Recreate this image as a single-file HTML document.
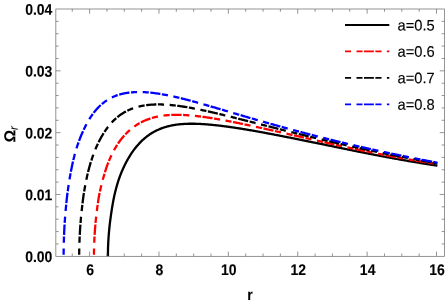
<!DOCTYPE html>
<html><head><meta charset="utf-8"><title>plot</title>
<style>
html,body{margin:0;padding:0;background:#fff;}
body{width:447px;height:305px;overflow:hidden;}
svg{display:block;will-change:transform;}
text{font-family:"Liberation Sans",sans-serif;font-size:14px;fill:#000;}
.lg{font-size:14.7px;stroke:#000;stroke-width:0.12px;}
.b{font-weight:bold;stroke:#000;stroke-width:0.1px;}
</style></head>
<body>
<svg width="447" height="305" viewBox="0 0 447 305">
<rect x="0" y="0" width="447" height="305" fill="#fff"/>
<g fill="none" stroke-width="2.3" stroke-linejoin="round">
<path d="M107.94,256.20 L107.93,255.56 L107.93,254.93 L107.93,254.29 L107.94,253.65 L107.94,253.04 L107.95,252.40 L107.96,251.74 L107.97,251.12 L107.98,250.49 L108.00,249.83 L108.01,249.23 L108.02,248.62 L108.04,247.99 L108.06,247.35 L108.08,246.70 L108.10,246.04 L108.12,245.44 L108.15,244.83 L108.17,244.21 L108.20,243.58 L108.23,242.94 L108.27,242.29 L108.30,241.63 L108.34,240.96 L108.38,240.29 L108.42,239.68 L108.46,239.07 L108.50,238.45 L108.54,237.82 L108.58,237.19 L108.63,236.55 L108.68,235.89 L108.73,235.23 L108.78,234.56 L108.84,233.89 L108.89,233.20 L108.95,232.51 L109.01,231.91 L109.06,231.30 L109.11,230.68 L109.17,230.06 L109.23,229.44 L109.29,228.80 L109.35,228.16 L109.42,227.52 L109.48,226.87 L109.55,226.21 L109.62,225.54 L109.69,224.87 L109.77,224.20 L109.85,223.52 L109.94,222.83 L110.02,222.14 L110.11,221.44 L110.20,220.74 L110.29,220.03 L110.39,219.32 L110.47,218.72 L110.55,218.11 L110.63,217.51 L110.71,216.90 L110.80,216.29 L110.88,215.67 L110.97,215.05 L111.06,214.43 L111.15,213.80 L111.24,213.18 L111.34,212.55 L111.43,211.92 L111.53,211.28 L111.63,210.64 L111.73,210.00 L111.83,209.36 L111.93,208.72 L112.03,208.08 L112.14,207.43 L112.24,206.78 L112.35,206.13 L112.46,205.48 L112.57,204.83 L112.68,204.18 L112.80,203.53 L112.91,202.88 L113.03,202.23 L113.15,201.57 L113.27,200.92 L113.39,200.27 L113.51,199.62 L113.64,198.96 L113.77,198.31 L113.90,197.66 L114.04,197.02 L114.18,196.37 L114.32,195.73 L114.47,195.09 L114.62,194.45 L114.76,193.81 L114.91,193.17 L115.07,192.54 L115.22,191.90 L115.37,191.28 L115.53,190.65 L115.69,190.02 L115.85,189.40 L116.01,188.79 L116.17,188.17 L116.34,187.56 L116.50,186.95 L116.67,186.35 L116.84,185.75 L117.01,185.15 L117.18,184.56 L117.36,183.97 L117.53,183.38 L117.71,182.80 L117.89,182.22 L118.07,181.65 L118.29,180.97 L118.51,180.29 L118.74,179.62 L118.97,178.96 L119.20,178.30 L119.43,177.64 L119.66,177.00 L119.90,176.36 L120.14,175.72 L120.37,175.09 L120.62,174.46 L120.86,173.84 L121.10,173.22 L121.35,172.61 L121.60,172.00 L121.86,171.39 L122.11,170.79 L122.37,170.19 L122.63,169.60 L122.90,169.00 L123.17,168.41 L123.44,167.82 L123.71,167.24 L123.98,166.65 L124.26,166.07 L124.54,165.49 L124.83,164.91 L125.11,164.34 L125.40,163.77 L125.69,163.20 L125.99,162.63 L126.28,162.07 L126.58,161.51 L126.89,160.95 L127.19,160.39 L127.50,159.84 L127.81,159.29 L128.13,158.74 L128.44,158.20 L128.76,157.66 L129.09,157.12 L129.41,156.58 L129.74,156.05 L130.07,155.52 L130.40,154.99 L130.74,154.47 L131.08,153.95 L131.42,153.43 L131.76,152.92 L132.11,152.41 L132.46,151.90 L132.81,151.40 L133.17,150.90 L133.53,150.40 L133.89,149.91 L134.26,149.42 L134.63,148.93 L135.00,148.45 L135.37,147.98 L135.75,147.50 L136.13,147.03 L136.51,146.57 L136.90,146.10 L137.29,145.65 L137.68,145.19 L138.14,144.67 L138.61,144.15 L139.08,143.64 L139.55,143.13 L140.03,142.63 L140.51,142.13 L141.00,141.64 L141.49,141.16 L141.99,140.68 L142.49,140.21 L142.99,139.75 L143.50,139.29 L144.01,138.84 L144.53,138.39 L145.05,137.95 L145.57,137.52 L146.10,137.09 L146.64,136.68 L147.18,136.26 L147.72,135.86 L148.27,135.46 L148.82,135.07 L149.37,134.68 L149.93,134.30 L150.50,133.93 L151.07,133.56 L151.64,133.21 L152.22,132.85 L152.80,132.51 L153.39,132.17 L153.98,131.84 L154.58,131.52 L155.18,131.20 L155.79,130.89 L156.40,130.58 L157.01,130.29 L157.63,130.00 L158.26,129.71 L158.89,129.44 L159.52,129.17 L160.16,128.90 L160.80,128.65 L161.45,128.40 L162.10,128.16 L162.76,127.92 L163.33,127.72 L163.90,127.53 L164.47,127.34 L165.05,127.16 L165.63,126.99 L166.21,126.81 L166.80,126.65 L167.40,126.48 L167.99,126.33 L168.59,126.17 L169.19,126.03 L169.80,125.88 L170.41,125.75 L171.02,125.61 L171.64,125.49 L172.26,125.36 L172.88,125.25 L173.51,125.13 L174.14,125.02 L174.78,124.92 L175.42,124.82 L176.06,124.73 L176.71,124.64 L177.36,124.55 L178.01,124.47 L178.67,124.39 L179.33,124.32 L179.99,124.25 L180.66,124.19 L181.33,124.13 L182.01,124.08 L182.69,124.03 L183.37,123.98 L184.06,123.94 L184.75,123.90 L185.45,123.87 L186.14,123.84 L186.85,123.81 L187.55,123.79 L188.26,123.77 L188.98,123.76 L189.69,123.75 L190.30,123.74 L190.90,123.74 L191.51,123.73 L192.11,123.73 L192.73,123.74 L193.34,123.74 L193.96,123.75 L194.58,123.76 L195.20,123.77 L195.82,123.79 L196.45,123.81 L197.08,123.83 L197.72,123.85 L198.35,123.87 L198.99,123.90 L199.63,123.93 L200.28,123.96 L200.92,124.00 L201.57,124.03 L202.22,124.07 L202.88,124.11 L203.54,124.15 L204.20,124.20 L204.86,124.24 L205.53,124.29 L206.20,124.34 L206.87,124.39 L207.54,124.45 L208.22,124.50 L208.90,124.56 L209.58,124.62 L210.27,124.68 L210.95,124.75 L211.64,124.81 L212.34,124.88 L213.03,124.95 L213.73,125.02 L214.44,125.09 L215.14,125.16 L215.85,125.24 L216.56,125.32 L217.27,125.40 L217.99,125.48 L218.71,125.56 L219.43,125.64 L220.15,125.73 L220.88,125.82 L221.61,125.90 L222.34,126.00 L223.08,126.09 L223.82,126.18 L224.56,126.28 L225.15,126.35 L225.75,126.43 L226.35,126.51 L226.95,126.59 L227.55,126.68 L228.15,126.76 L228.76,126.84 L229.37,126.93 L229.98,127.01 L230.59,127.10 L231.20,127.19 L231.82,127.27 L232.44,127.36 L233.05,127.45 L233.68,127.55 L234.30,127.64 L234.92,127.73 L235.55,127.83 L236.18,127.92 L236.81,128.02 L237.44,128.11 L238.07,128.21 L238.71,128.31 L239.34,128.41 L239.98,128.51 L240.63,128.61 L241.27,128.72 L241.91,128.82 L242.56,128.92 L243.21,129.03 L243.86,129.14 L244.51,129.24 L245.16,129.35 L245.82,129.46 L246.48,129.57 L247.14,129.68 L247.80,129.79 L248.46,129.91 L249.13,130.02 L249.80,130.13 L250.46,130.25 L251.14,130.36 L251.81,130.48 L252.48,130.60 L253.16,130.72 L253.84,130.84 L254.52,130.96 L255.20,131.08 L255.89,131.20 L256.57,131.32 L257.26,131.44 L257.95,131.57 L258.64,131.69 L259.33,131.82 L260.03,131.94 L260.73,132.07 L261.43,132.20 L262.13,132.33 L262.83,132.46 L263.54,132.59 L264.24,132.72 L264.95,132.85 L265.66,132.98 L266.38,133.11 L267.09,133.25 L267.81,133.38 L268.53,133.52 L269.25,133.65 L269.97,133.79 L270.70,133.93 L271.42,134.06 L272.15,134.20 L272.88,134.34 L273.61,134.48 L274.35,134.62 L275.08,134.76 L275.82,134.91 L276.56,135.05 L277.30,135.19 L278.05,135.34 L278.79,135.48 L279.54,135.63 L280.29,135.77 L281.04,135.92 L281.80,136.07 L282.55,136.21 L283.31,136.36 L284.07,136.51 L284.83,136.66 L285.59,136.81 L286.36,136.96 L287.13,137.11 L287.90,137.27 L288.67,137.42 L289.44,137.57 L290.22,137.73 L290.99,137.88 L291.77,138.04 L292.55,138.19 L293.34,138.35 L293.93,138.47 L294.52,138.59 L295.11,138.70 L295.70,138.82 L296.29,138.94 L296.89,139.06 L297.48,139.18 L298.08,139.30 L298.68,139.42 L299.27,139.54 L299.87,139.66 L300.48,139.79 L301.08,139.91 L301.68,140.03 L302.29,140.15 L302.89,140.27 L303.50,140.40 L304.11,140.52 L304.72,140.64 L305.33,140.77 L305.94,140.89 L306.55,141.02 L307.16,141.14 L307.78,141.27 L308.39,141.39 L309.01,141.52 L309.63,141.64 L310.25,141.77 L310.87,141.89 L311.49,142.02 L312.11,142.15 L312.74,142.28 L313.36,142.40 L313.99,142.53 L314.61,142.66 L315.24,142.79 L315.87,142.92 L316.50,143.05 L317.13,143.17 L317.77,143.30 L318.40,143.43 L319.04,143.56 L319.67,143.69 L320.31,143.82 L320.95,143.96 L321.59,144.09 L322.23,144.22 L322.87,144.35 L323.51,144.48 L324.16,144.61 L324.80,144.75 L325.45,144.88 L326.10,145.01 L326.75,145.14 L327.40,145.28 L328.05,145.41 L328.70,145.54 L329.35,145.68 L330.01,145.81 L330.66,145.95 L331.32,146.08 L331.98,146.22 L332.64,146.35 L333.30,146.49 L333.96,146.62 L334.62,146.76 L335.29,146.90 L335.95,147.03 L336.62,147.17 L337.29,147.31 L337.96,147.44 L338.63,147.58 L339.30,147.72 L339.97,147.85 L340.64,147.99 L341.32,148.13 L341.99,148.27 L342.67,148.41 L343.35,148.55 L344.03,148.69 L344.71,148.82 L345.39,148.96 L346.07,149.10 L346.76,149.24 L347.44,149.38 L348.13,149.52 L348.81,149.66 L349.50,149.80 L350.19,149.94 L350.88,150.08 L351.58,150.22 L352.27,150.36 L352.96,150.51 L353.66,150.65 L354.36,150.79 L355.05,150.93 L355.75,151.07 L356.45,151.21 L357.15,151.35 L357.86,151.50 L358.56,151.64 L359.27,151.78 L359.97,151.92 L360.68,152.06 L361.39,152.20 L362.10,152.35 L362.81,152.49 L363.52,152.63 L364.23,152.77 L364.95,152.91 L365.67,153.06 L366.38,153.20 L367.10,153.34 L367.82,153.48 L368.54,153.63 L369.26,153.77 L369.98,153.91 L370.71,154.05 L371.43,154.19 L372.16,154.33 L372.89,154.48 L373.62,154.62 L374.35,154.76 L375.08,154.90 L375.81,155.04 L376.55,155.18 L377.28,155.33 L378.02,155.47 L378.75,155.61 L379.49,155.75 L380.23,155.89 L380.97,156.03 L381.72,156.17 L382.46,156.31 L383.20,156.45 L383.95,156.59 L384.70,156.73 L385.44,156.87 L386.19,157.01 L386.94,157.15 L387.70,157.29 L388.45,157.43 L389.20,157.57 L389.96,157.71 L390.72,157.85 L391.47,157.99 L392.23,158.13 L392.99,158.27 L393.75,158.41 L394.52,158.55 L395.28,158.68 L396.05,158.82 L396.81,158.96 L397.58,159.10 L398.35,159.24 L399.12,159.37 L399.89,159.51 L400.66,159.65 L401.44,159.78 L402.21,159.92 L402.99,160.06 L403.77,160.19 L404.54,160.33 L405.32,160.46 L406.11,160.60 L406.89,160.73 L407.67,160.87 L408.46,161.00 L409.24,161.14 L410.03,161.27 L410.82,161.41 L411.61,161.54 L412.40,161.67 L413.19,161.81 L413.98,161.94 L414.78,162.07 L415.58,162.21 L416.37,162.34 L417.17,162.47 L417.97,162.60 L418.77,162.73 L419.57,162.87 L420.38,163.00 L421.18,163.13 L421.99,163.26 L422.79,163.39 L423.60,163.52 L424.41,163.65 L425.22,163.78 L426.03,163.90 L426.85,164.03 L427.66,164.16 L428.48,164.29 L429.29,164.42 L430.11,164.55 L430.93,164.67 L431.75,164.80 L432.58,164.93 L433.40,165.05 L434.22,165.18 L435.05,165.30 L435.88,165.43 L436.70,165.55 L437.40,165.66" stroke="#000"/>
<path d="M93.95,254.70 L93.95,254.45 L93.95,253.70 L93.96,252.95 L93.97,252.20 L93.98,251.45 L94.00,250.70 L94.01,249.95 L94.03,249.20 L94.05,248.45 L94.05,248.43M94.24,242.71 L94.24,242.70 L94.26,241.95 L94.29,241.21 L94.33,240.46 L94.36,239.71 L94.39,238.96 L94.43,238.21 L94.47,237.46 L94.51,236.71 L94.52,236.45M94.61,234.88 L94.62,234.71 L94.67,233.97 L94.72,233.22 L94.77,232.47 L94.82,231.72 L94.87,230.97 L94.92,230.22 L94.98,229.48 L95.03,228.73 L95.09,227.98 L95.15,227.23 L95.21,226.48 L95.28,225.74 L95.34,224.99 L95.38,224.49M95.52,222.92 L95.54,222.75 L95.61,222.00 L95.68,221.26 L95.76,220.51 L95.83,219.76 L95.91,219.02 L95.99,218.27 L96.07,217.53 L96.15,216.78 L96.16,216.68M96.83,211.00 L96.85,210.82 L96.94,210.08 L97.04,209.33 L97.13,208.59 L97.23,207.85 L97.33,207.10 L97.43,206.36 L97.54,205.62 L97.64,204.87 L97.65,204.79M97.87,203.23 L97.89,203.14 L98.00,202.40 L98.11,201.66 L98.22,200.92 L98.33,200.17 L98.45,199.43 L98.57,198.69 L98.68,197.95 L98.81,197.21 L98.93,196.47 L99.05,195.73 L99.18,194.99 L99.33,194.26 L99.48,193.52 L99.60,192.96M99.93,191.42 L99.95,191.32 L100.11,190.59 L100.27,189.86 L100.43,189.13 L100.60,188.39 L100.77,187.66 L100.94,186.93 L101.11,186.20 L101.29,185.47 L101.33,185.31M102.76,179.77 L102.79,179.66 L102.99,178.94 L103.19,178.22 L103.39,177.50 L103.60,176.78 L103.82,176.06 L104.03,175.34 L104.24,174.62 L104.45,173.90 L104.49,173.74M104.94,172.24 L104.94,172.22 L105.16,171.50 L105.38,170.79 L105.61,170.07 L105.84,169.36 L106.07,168.65 L106.31,167.94 L106.56,167.23 L106.80,166.52 L107.06,165.81 L107.31,165.11 L107.57,164.40 L107.84,163.70 L108.11,163.00 L108.32,162.47M108.90,161.03 L108.95,160.91 L109.23,160.22 L109.53,159.53 L109.82,158.84 L110.12,158.15 L110.43,157.47 L110.74,156.79 L111.05,156.11 L111.37,155.43 L111.41,155.34M113.99,150.30 L114.10,150.08 L114.47,149.43 L114.83,148.78 L115.21,148.13 L115.59,147.48 L115.97,146.84 L116.36,146.20 L116.76,145.56 L117.15,144.95M118.00,143.65 L118.12,143.46 L118.55,142.84 L118.97,142.23 L119.41,141.62 L119.85,141.01 L120.30,140.41 L120.75,139.81 L121.21,139.22 L121.67,138.63 L122.14,138.04 L122.62,137.47 L123.11,136.89 L123.60,136.32 L124.09,135.76 L124.33,135.50M125.38,134.36 L125.45,134.29 L125.97,133.75 L126.49,133.22 L127.02,132.69 L127.56,132.16 L128.11,131.65 L128.66,131.14 L129.21,130.64 L129.78,130.14 L129.87,130.06M134.32,126.55 L134.49,126.43 L135.10,126.00 L135.72,125.57 L136.34,125.16 L136.97,124.75 L137.61,124.35 L138.25,123.96 L138.89,123.58 L139.54,123.20 L139.55,123.20M140.91,122.45 L141.08,122.37 L141.75,122.02 L142.42,121.69 L143.09,121.36 L143.77,121.04 L144.45,120.73 L145.14,120.43 L145.83,120.14 L146.53,119.85 L147.22,119.58 L147.92,119.31 L148.63,119.05 L149.34,118.80 L150.05,118.56 L150.41,118.44M151.90,117.98 L151.96,117.97 L152.68,117.76 L153.40,117.56 L154.12,117.37 L154.85,117.19 L155.58,117.01 L156.31,116.84 L157.04,116.68 L157.78,116.53 L157.93,116.50M163.52,115.59 L163.70,115.57 L164.44,115.48 L165.19,115.40 L165.94,115.32 L166.68,115.25 L167.43,115.18 L168.18,115.12 L168.93,115.07 L169.67,115.02 L169.71,115.02M171.26,114.94 L171.42,114.93 L172.17,114.90 L172.92,114.87 L173.67,114.85 L174.42,114.83 L175.17,114.82 L175.92,114.81 L176.67,114.81 L177.42,114.81 L178.17,114.82 L178.92,114.83 L179.67,114.84 L180.42,114.86 L181.17,114.89 L181.59,114.90M183.14,114.96 L183.17,114.96 L183.92,115.00 L184.67,115.04 L185.41,115.08 L186.16,115.13 L186.91,115.18 L187.66,115.23 L188.41,115.29 L189.16,115.34 L189.34,115.36M194.95,115.88 L195.13,115.90 L195.87,115.98 L196.62,116.06 L197.37,116.15 L198.11,116.24 L198.85,116.33 L199.60,116.42 L200.34,116.51 L201.01,116.60M202.52,116.79 L202.57,116.80 L203.32,116.90 L204.06,117.00 L204.80,117.11 L205.55,117.21 L206.29,117.32 L207.03,117.43 L207.77,117.54 L208.51,117.65 L209.26,117.76 L210.00,117.88 L210.74,117.99 L211.48,118.11 L212.22,118.23 L212.55,118.28M214.06,118.53 L214.19,118.55 L214.93,118.67 L215.67,118.80 L216.41,118.92 L217.15,119.05 L217.89,119.18 L218.63,119.31 L219.37,119.44 L220.07,119.56M225.54,120.57 L225.76,120.61 L226.50,120.75 L227.24,120.89 L227.97,121.03 L228.71,121.17 L229.44,121.31 L230.18,121.46 L230.92,121.60 L231.53,121.72M233.03,122.02 L233.12,122.04 L233.86,122.18 L234.59,122.33 L235.33,122.48 L236.06,122.63 L236.80,122.78 L237.53,122.93 L238.27,123.08 L239.00,123.23 L239.74,123.38 L240.47,123.53 L241.21,123.69 L241.94,123.84 L242.68,123.99 L242.97,124.05M244.47,124.36 L244.63,124.40 L245.37,124.55 L246.10,124.71 L246.84,124.86 L247.57,125.02 L248.30,125.17 L249.04,125.33 L249.77,125.48 L250.50,125.64M255.98,126.83 L256.12,126.86 L256.86,127.02 L257.59,127.18 L258.32,127.34 L259.05,127.50 L259.79,127.66 L260.52,127.82 L261.25,127.98 L261.98,128.14 L262.00,128.15M263.50,128.48 L263.69,128.52 L264.43,128.68 L265.16,128.85 L265.89,129.01 L266.62,129.17 L267.35,129.33 L268.09,129.50 L268.82,129.66 L269.55,129.83 L270.28,129.99 L271.01,130.15 L271.75,130.32 L272.48,130.48 L273.21,130.65 L273.48,130.71M274.99,131.05 L275.16,131.09 L275.89,131.25 L276.62,131.42 L277.35,131.58 L278.09,131.75 L278.82,131.91 L279.55,132.08 L280.28,132.24 L280.99,132.40M286.46,133.65 L286.62,133.68 L287.35,133.85 L288.08,134.01 L288.81,134.18 L289.54,134.35 L290.28,134.51 L291.01,134.68 L291.74,134.85 L292.47,135.01M293.97,135.35 L294.18,135.40 L294.91,135.57 L295.64,135.73 L296.37,135.90 L297.10,136.07 L297.83,136.23 L298.56,136.40 L299.30,136.57 L300.03,136.73 L300.76,136.90 L301.49,137.07 L302.22,137.23 L302.95,137.40 L303.68,137.56 L303.95,137.62M305.45,137.97 L305.63,138.01 L306.36,138.17 L307.10,138.34 L307.83,138.51 L308.56,138.67 L309.29,138.84 L310.02,139.00 L310.75,139.17 L311.45,139.33M316.92,140.57 L317.09,140.60 L317.82,140.77 L318.56,140.94 L319.29,141.10 L320.02,141.26 L320.75,141.43 L321.48,141.59 L322.21,141.76 L322.93,141.92M324.43,142.26 L324.65,142.31 L325.39,142.47 L326.12,142.64 L326.85,142.80 L327.58,142.96 L328.31,143.13 L329.04,143.29 L329.78,143.45 L330.51,143.62 L331.24,143.78 L331.97,143.94 L332.71,144.11 L333.44,144.27 L334.17,144.43 L334.42,144.49M335.92,144.82 L336.12,144.87 L336.85,145.03 L337.59,145.19 L338.32,145.35 L339.05,145.51 L339.78,145.68 L340.52,145.84 L341.25,146.00 L341.93,146.15M347.42,147.35 L347.60,147.39 L348.33,147.55 L349.06,147.71 L349.80,147.87 L350.53,148.02 L351.26,148.18 L352.00,148.34 L352.73,148.50 L353.43,148.65M354.94,148.97 L355.17,149.02 L355.91,149.18 L356.64,149.34 L357.37,149.49 L358.11,149.65 L358.84,149.80 L359.58,149.96 L360.31,150.11 L361.04,150.27 L361.78,150.42 L362.51,150.58 L363.25,150.73 L363.98,150.88 L364.71,151.04 L364.95,151.08M366.46,151.40 L366.67,151.44 L367.41,151.59 L368.14,151.74 L368.88,151.89 L369.61,152.04 L370.35,152.20 L371.08,152.34 L371.82,152.49 L372.49,152.63M377.99,153.73 L378.19,153.77 L378.92,153.92 L379.66,154.06 L380.40,154.21 L381.13,154.35 L381.87,154.50 L382.60,154.64 L383.34,154.78 L384.04,154.92M385.55,155.21 L385.55,155.21 L386.29,155.35 L387.02,155.49 L387.76,155.63 L388.50,155.77 L389.23,155.91 L389.97,156.05 L390.71,156.19 L391.44,156.33 L392.18,156.47 L392.92,156.61 L393.66,156.74 L394.39,156.88 L395.13,157.02 L395.60,157.10M397.11,157.38 L397.34,157.42 L398.08,157.56 L398.82,157.69 L399.56,157.83 L400.30,157.96 L401.03,158.09 L401.77,158.22 L402.51,158.36 L403.17,158.47M408.70,159.44 L408.91,159.48 L409.65,159.61 L410.39,159.74 L411.13,159.86 L411.87,159.99 L412.61,160.11 L413.35,160.24 L414.09,160.36 L414.77,160.48M416.29,160.73 L416.31,160.74 L417.05,160.86 L417.79,160.98 L418.53,161.10 L419.27,161.23 L420.01,161.35 L420.75,161.47 L421.49,161.59 L422.23,161.71 L422.97,161.83 L423.71,161.95 L424.45,162.07 L425.19,162.18 L425.93,162.30 L426.39,162.37M427.91,162.61 L428.15,162.65 L428.89,162.77 L429.63,162.88 L430.37,163.00 L431.12,163.11 L431.86,163.23 L432.60,163.34 L433.34,163.45 L434.03,163.56" stroke="#ff0000"/>
<path d="M79.18,254.70 L79.18,254.45 L79.18,253.70 L79.19,252.95 L79.20,252.20 L79.21,251.45 L79.22,250.70 L79.24,249.95 L79.25,249.20 L79.27,248.45 L79.27,248.44M79.44,242.74 L79.44,242.70 L79.46,241.95 L79.49,241.20 L79.52,240.45 L79.54,239.71 L79.57,238.96 L79.61,238.21 L79.64,237.46 L79.67,236.71 L79.68,236.49M79.76,234.92 L79.77,234.71 L79.81,233.96 L79.85,233.21 L79.89,232.46 L79.94,231.71 L79.98,230.97 L80.03,230.22 L80.08,229.47 L80.12,228.72 L80.17,227.97 L80.22,227.22 L80.28,226.48 L80.33,225.73 L80.38,224.98 L80.41,224.55M80.53,222.99 L80.53,222.99 L80.59,222.24 L80.65,221.49 L80.72,220.74 L80.78,220.00 L80.85,219.25 L80.92,218.50 L80.98,217.75 L81.05,217.01 L81.08,216.75M81.64,211.08 L81.65,211.04 L81.73,210.29 L81.81,209.55 L81.89,208.80 L81.97,208.05 L82.05,207.31 L82.13,206.56 L82.22,205.82 L82.31,205.07 L82.33,204.86M82.51,203.30 L82.54,203.09 L82.63,202.34 L82.72,201.60 L82.81,200.85 L82.91,200.11 L83.00,199.37 L83.10,198.62 L83.20,197.88 L83.29,197.14 L83.39,196.39 L83.49,195.65 L83.60,194.91 L83.72,194.17 L83.84,193.42 L83.91,193.00M84.16,191.45 L84.16,191.45 L84.29,190.71 L84.41,189.97 L84.54,189.23 L84.67,188.50 L84.80,187.76 L84.93,187.02 L85.07,186.28 L85.20,185.54 L85.25,185.29M86.35,179.69 L86.36,179.65 L86.51,178.92 L86.66,178.19 L86.82,177.45 L86.98,176.72 L87.14,175.99 L87.31,175.26 L87.47,174.53 L87.64,173.79 L87.69,173.58M88.06,172.06 L88.11,171.85 L88.29,171.12 L88.48,170.40 L88.67,169.67 L88.86,168.94 L89.05,168.22 L89.25,167.50 L89.45,166.77 L89.66,166.05 L89.86,165.33 L90.08,164.61 L90.29,163.89 L90.51,163.18 L90.73,162.46 L90.85,162.08M91.33,160.60 L91.35,160.56 L91.58,159.84 L91.80,159.13 L92.03,158.41 L92.27,157.70 L92.50,156.99 L92.75,156.28 L92.99,155.57 L93.25,154.87 L93.31,154.69M95.37,149.40 L95.42,149.27 L95.71,148.58 L96.00,147.89 L96.30,147.20 L96.60,146.52 L96.91,145.83 L97.22,145.15 L97.54,144.47 L97.86,143.79 L97.90,143.70M98.58,142.30 L98.62,142.22 L98.96,141.55 L99.29,140.88 L99.64,140.21 L99.99,139.55 L100.34,138.89 L100.70,138.23 L101.06,137.57 L101.43,136.92 L101.80,136.27 L102.18,135.62 L102.56,134.97 L102.95,134.33 L103.34,133.69 L103.61,133.26M104.46,131.95 L104.56,131.80 L104.97,131.17 L105.39,130.55 L105.82,129.93 L106.25,129.32 L106.69,128.71 L107.13,128.11 L107.58,127.51 L108.03,126.91 L108.07,126.87M111.71,122.52 L111.73,122.50 L112.24,121.95 L112.75,121.41 L113.27,120.87 L113.81,120.35 L114.35,119.83 L114.90,119.31 L115.45,118.81 L116.01,118.31 L116.17,118.17M117.36,117.16 L117.54,117.02 L118.12,116.55 L118.72,116.09 L119.31,115.64 L119.92,115.19 L120.53,114.76 L121.15,114.33 L121.77,113.92 L122.40,113.51 L123.04,113.11 L123.68,112.72 L124.33,112.34 L124.98,111.97 L125.64,111.62 L125.97,111.44M127.36,110.73 L127.42,110.70 L128.09,110.38 L128.78,110.07 L129.46,109.76 L130.15,109.47 L130.84,109.18 L131.54,108.90 L132.24,108.63 L132.94,108.37 L133.10,108.31M138.53,106.66 L138.68,106.63 L139.41,106.45 L140.14,106.28 L140.87,106.12 L141.61,105.97 L142.34,105.82 L143.08,105.69 L143.82,105.56 L144.56,105.44 L144.64,105.43M146.18,105.20 L146.29,105.19 L147.04,105.09 L147.78,105.01 L148.53,104.93 L149.27,104.85 L150.02,104.78 L150.77,104.72 L151.51,104.67 L152.26,104.62 L153.01,104.58 L153.76,104.54 L154.51,104.51 L155.26,104.49 L156.01,104.47 L156.38,104.46M157.92,104.44 L158.01,104.44 L158.76,104.44 L159.51,104.45 L160.26,104.46 L161.01,104.47 L161.76,104.49 L162.51,104.52 L163.26,104.54 L164.01,104.58 L164.06,104.58M169.64,104.95 L169.74,104.96 L170.49,105.02 L171.24,105.09 L171.98,105.16 L172.73,105.24 L173.48,105.32 L174.22,105.40 L174.97,105.48 L175.71,105.57 L175.75,105.57M177.27,105.76 L177.45,105.78 L178.19,105.88 L178.94,105.97 L179.68,106.07 L180.42,106.18 L181.17,106.29 L181.91,106.40 L182.65,106.51 L183.39,106.63 L184.13,106.74 L184.87,106.86 L185.61,106.98 L186.35,107.11 L187.09,107.23 L187.36,107.28M188.88,107.54 L189.06,107.57 L189.80,107.70 L190.54,107.84 L191.28,107.97 L192.01,108.11 L192.75,108.25 L193.49,108.39 L194.22,108.53 L194.91,108.66M200.40,109.76 L200.60,109.80 L201.33,109.96 L202.06,110.11 L202.80,110.27 L203.53,110.42 L204.27,110.58 L205.00,110.74 L205.73,110.90 L206.41,111.05M207.91,111.38 L207.93,111.38 L208.66,111.55 L209.39,111.71 L210.12,111.88 L210.86,112.04 L211.59,112.21 L212.32,112.38 L213.05,112.54 L213.78,112.71 L214.51,112.88 L215.24,113.05 L215.97,113.22 L216.70,113.40 L217.43,113.57 L217.85,113.67M219.34,114.02 L219.38,114.03 L220.11,114.20 L220.84,114.38 L221.56,114.55 L222.29,114.73 L223.02,114.91 L223.75,115.08 L224.48,115.26 L225.21,115.44 L225.31,115.46M230.75,116.80 L230.79,116.81 L231.52,116.99 L232.25,117.17 L232.98,117.36 L233.70,117.54 L234.43,117.72 L235.16,117.90 L235.89,118.08 L236.61,118.27 L236.71,118.29M238.20,118.67 L238.31,118.70 L239.04,118.88 L239.76,119.06 L240.49,119.25 L241.22,119.43 L241.95,119.61 L242.67,119.79 L243.40,119.98 L244.13,120.16 L244.86,120.34 L245.58,120.53 L246.31,120.71 L247.04,120.90 L247.76,121.08 L248.11,121.17M249.60,121.55 L249.70,121.57 L250.43,121.76 L251.16,121.94 L251.88,122.12 L252.61,122.31 L253.34,122.49 L254.06,122.68 L254.79,122.86 L255.52,123.05 L255.57,123.06M261.01,124.45 L261.09,124.47 L261.82,124.65 L262.54,124.84 L263.27,125.02 L264.00,125.21 L264.73,125.39 L265.45,125.57 L266.18,125.76 L266.91,125.94 L266.98,125.96M268.48,126.34 L268.60,126.37 L269.33,126.56 L270.06,126.74 L270.78,126.93 L271.51,127.11 L272.24,127.30 L272.96,127.48 L273.69,127.67 L274.42,127.85 L275.14,128.03 L275.87,128.22 L276.60,128.40 L277.33,128.58 L278.05,128.77 L278.40,128.85M279.89,129.23 L279.99,129.26 L280.72,129.44 L281.45,129.62 L282.17,129.81 L282.90,129.99 L283.63,130.17 L284.36,130.36 L285.08,130.54 L285.81,130.72 L285.86,130.73M291.31,132.09 L291.39,132.11 L292.12,132.29 L292.85,132.48 L293.57,132.66 L294.30,132.84 L295.03,133.02 L295.76,133.20 L296.49,133.38 L297.21,133.56 L297.29,133.58M298.78,133.95 L298.91,133.98 L299.64,134.16 L300.37,134.34 L301.10,134.52 L301.83,134.69 L302.55,134.87 L303.28,135.05 L304.01,135.23 L304.74,135.41 L305.47,135.59 L306.20,135.76 L306.93,135.94 L307.65,136.12 L308.38,136.30 L308.72,136.38M310.22,136.74 L310.33,136.77 L311.06,136.94 L311.78,137.12 L312.51,137.30 L313.24,137.47 L313.97,137.65 L314.70,137.82 L315.43,138.00 L316.16,138.17 L316.21,138.19M321.67,139.49 L321.75,139.51 L322.48,139.68 L323.21,139.86 L323.94,140.03 L324.67,140.20 L325.40,140.37 L326.13,140.55 L326.86,140.72 L327.59,140.89 L327.66,140.91M329.16,141.26 L329.30,141.29 L330.03,141.46 L330.76,141.63 L331.49,141.80 L332.22,141.97 L332.95,142.14 L333.68,142.31 L334.41,142.48 L335.14,142.65 L335.87,142.82 L336.60,142.99 L337.33,143.16 L338.06,143.32 L338.79,143.49 L339.13,143.57M340.63,143.91 L340.74,143.94 L341.47,144.11 L342.20,144.27 L342.94,144.44 L343.67,144.61 L344.40,144.77 L345.13,144.94 L345.86,145.10 L346.59,145.27 L346.64,145.28M352.12,146.51 L352.20,146.53 L352.94,146.69 L353.67,146.85 L354.40,147.01 L355.13,147.18 L355.87,147.34 L356.60,147.50 L357.33,147.66 L358.06,147.82 L358.13,147.84M359.64,148.17 L359.77,148.20 L360.51,148.36 L361.24,148.51 L361.97,148.67 L362.70,148.83 L363.44,148.99 L364.17,149.15 L364.90,149.31 L365.64,149.47 L366.37,149.62 L367.10,149.78 L367.84,149.94 L368.57,150.09 L369.30,150.25 L369.64,150.32M371.15,150.64 L371.26,150.66 L371.99,150.82 L372.73,150.97 L373.46,151.13 L374.20,151.28 L374.93,151.44 L375.66,151.59 L376.40,151.74 L377.13,151.90 L377.18,151.91M382.67,153.04 L382.76,153.06 L383.50,153.21 L384.23,153.36 L384.97,153.51 L385.70,153.66 L386.44,153.81 L387.17,153.96 L387.91,154.11 L388.64,154.25 L388.71,154.27M390.22,154.57 L390.36,154.60 L391.09,154.75 L391.83,154.89 L392.57,155.04 L393.30,155.19 L394.04,155.33 L394.77,155.48 L395.51,155.62 L396.24,155.77 L396.98,155.91 L397.72,156.06 L398.45,156.20 L399.19,156.34 L399.92,156.49 L400.26,156.55M401.77,156.85 L401.89,156.87 L402.62,157.01 L403.36,157.15 L404.10,157.29 L404.83,157.44 L405.57,157.58 L406.31,157.72 L407.04,157.86 L407.78,158.00 L407.82,158.01M413.34,159.05 L413.43,159.06 L414.17,159.20 L414.91,159.34 L415.64,159.47 L416.38,159.61 L417.12,159.75 L417.86,159.88 L418.59,160.02 L419.33,160.15 L419.40,160.17M420.91,160.44 L421.05,160.47 L421.79,160.60 L422.53,160.74 L423.27,160.87 L424.00,161.00 L424.74,161.14 L425.48,161.27 L426.22,161.40 L426.96,161.54 L427.70,161.67 L428.43,161.80 L429.17,161.93 L429.91,162.06 L430.65,162.19 L431.04,162.26M432.57,162.53 L432.62,162.54 L433.36,162.67 L434.10,162.80 L434.83,162.93 L435.57,163.06 L436.31,163.18 L437.05,163.31 L437.40,163.37" stroke="#000"/>
<path d="M63.61,254.70 L63.61,254.45 L63.62,253.70 L63.62,252.95 L63.63,252.20 L63.64,251.45 L63.65,250.70 L63.66,249.95 L63.67,249.20 L63.69,248.45 L63.69,248.43M63.81,242.71 L63.81,242.70 L63.83,241.95 L63.85,241.20 L63.87,240.45 L63.89,239.70 L63.91,238.95 L63.94,238.20 L63.96,237.45 L63.99,236.70 L64.00,236.44M64.06,234.87 L64.07,234.71 L64.10,233.96 L64.13,233.21 L64.16,232.46 L64.20,231.71 L64.23,230.96 L64.27,230.21 L64.30,229.46 L64.34,228.71 L64.38,227.96 L64.42,227.21 L64.46,226.47 L64.51,225.72 L64.55,224.97 L64.58,224.46M64.68,222.90 L64.69,222.72 L64.74,221.97 L64.79,221.23 L64.84,220.48 L64.90,219.73 L64.95,218.98 L65.01,218.23 L65.07,217.49 L65.12,216.74 L65.13,216.64M65.61,210.94 L65.62,210.76 L65.69,210.01 L65.76,209.27 L65.83,208.52 L65.89,207.77 L65.96,207.02 L66.04,206.28 L66.11,205.53 L66.18,204.79 L66.19,204.70M66.34,203.14 L66.35,203.04 L66.43,202.30 L66.51,201.55 L66.58,200.81 L66.66,200.06 L66.74,199.31 L66.82,198.57 L66.91,197.82 L66.99,197.08 L67.07,196.33 L67.16,195.59 L67.25,194.84 L67.34,194.10 L67.44,193.36 L67.52,192.78M67.73,191.23 L67.75,191.13 L67.85,190.38 L67.95,189.64 L68.06,188.90 L68.17,188.16 L68.27,187.41 L68.38,186.67 L68.49,185.93 L68.60,185.19 L68.63,185.02M69.52,179.37 L69.54,179.26 L69.66,178.52 L69.79,177.78 L69.92,177.04 L70.04,176.30 L70.17,175.56 L70.30,174.83 L70.44,174.09 L70.57,173.35 L70.60,173.19M70.89,171.65 L70.89,171.63 L71.03,170.89 L71.17,170.16 L71.31,169.42 L71.46,168.68 L71.61,167.95 L71.76,167.21 L71.91,166.48 L72.06,165.75 L72.22,165.01 L72.37,164.28 L72.53,163.55 L72.70,162.81 L72.86,162.08 L73.01,161.44M73.37,159.91 L73.37,159.89 L73.55,159.16 L73.72,158.43 L73.90,157.70 L74.09,156.98 L74.27,156.25 L74.46,155.52 L74.66,154.80 L74.85,154.08 L74.92,153.83M76.52,148.33 L76.52,148.31 L76.75,147.60 L76.97,146.88 L77.20,146.17 L77.44,145.46 L77.68,144.75 L77.92,144.04 L78.16,143.33 L78.41,142.62 L78.50,142.38M79.04,140.90 L79.10,140.74 L79.36,140.04 L79.63,139.34 L79.90,138.64 L80.17,137.94 L80.45,137.24 L80.73,136.55 L81.02,135.85 L81.30,135.16 L81.60,134.47 L81.89,133.78 L82.19,133.09 L82.50,132.41 L82.80,131.72 L83.01,131.26M83.66,129.83 L83.73,129.67 L84.05,129.00 L84.37,128.32 L84.70,127.64 L85.03,126.97 L85.37,126.30 L85.71,125.63 L86.06,124.97 L86.41,124.31 L86.46,124.22M89.30,119.25 L89.39,119.10 L89.79,118.46 L90.19,117.83 L90.59,117.20 L91.01,116.57 L91.43,115.95 L91.85,115.33 L92.28,114.72 L92.72,114.11 L92.78,114.03M93.72,112.77 L93.76,112.71 L94.23,112.12 L94.69,111.53 L95.17,110.95 L95.65,110.37 L96.14,109.81 L96.63,109.24 L97.14,108.68 L97.65,108.13 L98.16,107.59 L98.68,107.05 L99.22,106.52 L99.75,106.00 L100.30,105.48 L100.74,105.08M101.92,104.04 L101.98,103.99 L102.55,103.51 L103.14,103.04 L103.73,102.57 L104.33,102.12 L104.93,101.68 L105.55,101.25 L106.17,100.83 L106.79,100.41 L106.95,100.30M111.92,97.47 L111.99,97.43 L112.67,97.11 L113.35,96.80 L114.04,96.50 L114.73,96.21 L115.43,95.93 L116.13,95.67 L116.84,95.41 L117.54,95.17 L117.73,95.11M119.23,94.64 L119.45,94.57 L120.17,94.37 L120.90,94.17 L121.63,93.99 L122.35,93.81 L123.09,93.65 L123.82,93.49 L124.56,93.34 L125.29,93.21 L126.03,93.08 L126.77,92.96 L127.51,92.85 L128.26,92.75 L129.00,92.65 L129.44,92.60M130.98,92.44 L130.99,92.44 L131.74,92.37 L132.48,92.31 L133.23,92.26 L133.98,92.21 L134.73,92.17 L135.48,92.14 L136.23,92.11 L136.98,92.09 L137.09,92.09M142.67,92.11 L142.73,92.11 L143.48,92.14 L144.23,92.17 L144.98,92.20 L145.72,92.25 L146.47,92.30 L147.22,92.35 L147.97,92.42 L148.72,92.48 L148.78,92.49M150.30,92.63 L150.46,92.65 L151.20,92.72 L151.95,92.81 L152.69,92.89 L153.44,92.98 L154.18,93.07 L154.93,93.17 L155.67,93.27 L156.41,93.37 L157.16,93.48 L157.90,93.58 L158.64,93.70 L159.38,93.81 L160.12,93.93 L160.39,93.97M161.90,94.22 L162.09,94.26 L162.83,94.39 L163.57,94.52 L164.31,94.65 L165.05,94.79 L165.78,94.92 L166.52,95.07 L167.26,95.21 L167.92,95.34M173.38,96.49 L173.62,96.54 L174.35,96.70 L175.08,96.87 L175.81,97.04 L176.54,97.20 L177.27,97.38 L178.00,97.55 L178.73,97.72 L179.35,97.87M180.84,98.23 L180.92,98.25 L181.65,98.43 L182.38,98.61 L183.11,98.79 L183.83,98.97 L184.56,99.16 L185.29,99.34 L186.01,99.53 L186.74,99.71 L187.47,99.90 L188.19,100.09 L188.92,100.28 L189.64,100.47 L190.37,100.67 L190.69,100.75M192.17,101.15 L192.30,101.19 L193.02,101.38 L193.75,101.58 L194.47,101.78 L195.19,101.97 L195.92,102.17 L196.64,102.37 L197.36,102.57 L198.08,102.77M203.45,104.29 L203.62,104.34 L204.34,104.54 L205.06,104.75 L205.78,104.96 L206.50,105.16 L207.22,105.37 L207.94,105.58 L208.66,105.79 L209.34,105.98M210.81,106.41 L210.82,106.42 L211.54,106.63 L212.26,106.84 L212.98,107.05 L213.70,107.26 L214.42,107.47 L215.14,107.68 L215.86,107.89 L216.58,108.10 L217.30,108.31 L218.02,108.53 L218.74,108.74 L219.46,108.95 L220.18,109.16 L220.57,109.28M222.04,109.71 L222.10,109.73 L222.82,109.94 L223.54,110.15 L224.25,110.37 L224.97,110.58 L225.69,110.79 L226.41,111.01 L227.13,111.22 L227.85,111.43 L227.91,111.45M233.27,113.04 L233.36,113.06 L234.08,113.28 L234.80,113.49 L235.52,113.70 L236.24,113.91 L236.96,114.13 L237.68,114.34 L238.40,114.55 L239.12,114.76 L239.14,114.77M240.61,115.20 L240.80,115.26 L241.52,115.47 L242.24,115.68 L242.96,115.89 L243.68,116.10 L244.40,116.31 L245.12,116.52 L245.84,116.73 L246.56,116.94 L247.28,117.15 L248.00,117.36 L248.72,117.57 L249.44,117.78 L250.16,117.99 L250.39,118.05M251.86,118.48 L252.08,118.54 L252.80,118.75 L253.52,118.96 L254.24,119.17 L254.96,119.37 L255.68,119.58 L256.40,119.79 L257.12,120.00 L257.75,120.18M263.12,121.71 L263.13,121.72 L263.85,121.92 L264.57,122.13 L265.30,122.33 L266.02,122.54 L266.74,122.74 L267.46,122.94 L268.18,123.15 L268.90,123.35 L269.02,123.38M270.49,123.80 L270.59,123.83 L271.31,124.03 L272.03,124.23 L272.76,124.43 L273.48,124.64 L274.20,124.84 L274.92,125.04 L275.64,125.24 L276.37,125.44 L277.09,125.64 L277.81,125.84 L278.54,126.04 L279.26,126.24 L279.98,126.44 L280.30,126.53M281.78,126.94 L281.91,126.98 L282.63,127.18 L283.36,127.37 L284.08,127.57 L284.80,127.77 L285.53,127.97 L286.25,128.17 L286.97,128.36 L287.69,128.56M293.08,130.02 L293.25,130.06 L293.97,130.26 L294.69,130.45 L295.42,130.65 L296.14,130.84 L296.87,131.03 L297.59,131.23 L298.32,131.42 L299.00,131.60M300.49,132.00 L300.49,132.00 L301.22,132.19 L301.94,132.38 L302.67,132.57 L303.39,132.76 L304.12,132.96 L304.84,133.15 L305.57,133.34 L306.29,133.53 L307.02,133.72 L307.75,133.91 L308.47,134.09 L309.20,134.28 L309.92,134.47 L310.34,134.58M311.82,134.96 L311.86,134.97 L312.59,135.16 L313.31,135.35 L314.04,135.53 L314.76,135.72 L315.49,135.91 L316.22,136.09 L316.94,136.28 L317.67,136.46 L317.76,136.49M323.17,137.86 L323.25,137.88 L323.97,138.06 L324.70,138.24 L325.43,138.42 L326.16,138.61 L326.88,138.79 L327.61,138.97 L328.34,139.15 L329.07,139.33 L329.12,139.34M330.61,139.71 L330.76,139.75 L331.49,139.93 L332.22,140.11 L332.95,140.29 L333.68,140.47 L334.41,140.65 L335.13,140.83 L335.86,141.00 L336.59,141.18 L337.32,141.36 L338.05,141.54 L338.78,141.71 L339.51,141.89 L340.24,142.06 L340.52,142.13M342.01,142.49 L342.18,142.53 L342.91,142.71 L343.64,142.88 L344.37,143.06 L345.10,143.23 L345.83,143.40 L346.56,143.58 L347.29,143.75 L347.99,143.92M353.44,145.20 L353.62,145.24 L354.35,145.41 L355.08,145.58 L355.81,145.75 L356.54,145.92 L357.27,146.09 L358.00,146.25 L358.73,146.42 L359.43,146.58M360.92,146.93 L361.17,146.98 L361.90,147.15 L362.63,147.32 L363.36,147.48 L364.09,147.65 L364.82,147.81 L365.55,147.98 L366.29,148.14 L367.02,148.31 L367.75,148.47 L368.48,148.64 L369.21,148.80 L369.95,148.96 L370.68,149.13 L370.88,149.17M372.38,149.51 L372.39,149.51 L373.12,149.67 L373.85,149.83 L374.58,149.99 L375.32,150.15 L376.05,150.31 L376.78,150.48 L377.51,150.64 L378.25,150.80 L378.38,150.83M383.86,152.01 L383.87,152.01 L384.60,152.17 L385.33,152.33 L386.07,152.48 L386.80,152.64 L387.53,152.80 L388.27,152.95 L389.00,153.11 L389.73,153.26 L389.87,153.29M391.37,153.61 L391.45,153.62 L392.18,153.78 L392.91,153.93 L393.65,154.08 L394.38,154.24 L395.12,154.39 L395.85,154.54 L396.59,154.70 L397.32,154.85 L398.05,155.00 L398.79,155.15 L399.52,155.30 L400.26,155.45 L400.99,155.60 L401.37,155.68M402.87,155.99 L402.95,156.00 L403.69,156.15 L404.42,156.30 L405.16,156.45 L405.89,156.60 L406.63,156.75 L407.36,156.90 L408.10,157.04 L408.83,157.19 L408.90,157.20M414.39,158.29 L414.47,158.31 L415.21,158.46 L415.95,158.60 L416.68,158.74 L417.42,158.89 L418.15,159.03 L418.89,159.17 L419.63,159.32 L420.36,159.46 L420.42,159.47M421.93,159.76 L422.08,159.79 L422.82,159.93 L423.55,160.08 L424.29,160.22 L425.03,160.36 L425.76,160.50 L426.50,160.64 L427.24,160.78 L427.97,160.92 L428.71,161.06 L429.45,161.20 L430.19,161.34 L430.92,161.48 L431.66,161.61 L432.05,161.69M433.58,161.97 L433.63,161.98 L434.36,162.12 L435.10,162.26 L435.84,162.39 L436.57,162.53 L437.31,162.67 L437.40,162.68" stroke="#0000ff"/>
</g>
<g stroke="#666" stroke-width="0.7" fill="none">
<rect x="55.85" y="9.0" width="388.55" height="247.30"/>
<path d="M72.25,256.3v-2.8M72.25,9.0v2.8M89.60,256.3v-4.7M89.60,9.0v4.7M106.94,256.3v-2.8M106.94,9.0v2.8M124.29,256.3v-2.8M124.29,9.0v2.8M141.63,256.3v-2.8M141.63,9.0v2.8M158.98,256.3v-4.7M158.98,9.0v4.7M176.32,256.3v-2.8M176.32,9.0v2.8M193.67,256.3v-2.8M193.67,9.0v2.8M211.01,256.3v-2.8M211.01,9.0v2.8M228.36,256.3v-4.7M228.36,9.0v4.7M245.70,256.3v-2.8M245.70,9.0v2.8M263.05,256.3v-2.8M263.05,9.0v2.8M280.39,256.3v-2.8M280.39,9.0v2.8M297.74,256.3v-4.7M297.74,9.0v4.7M315.08,256.3v-2.8M315.08,9.0v2.8M332.43,256.3v-2.8M332.43,9.0v2.8M349.77,256.3v-2.8M349.77,9.0v2.8M367.12,256.3v-4.7M367.12,9.0v4.7M384.47,256.3v-2.8M384.47,9.0v2.8M401.81,256.3v-2.8M401.81,9.0v2.8M419.15,256.3v-2.8M419.15,9.0v2.8M436.50,256.3v-4.7M436.50,9.0v4.7M55.85,243.94h2.8M444.4,243.94h-2.8M55.85,231.57h2.8M444.4,231.57h-2.8M55.85,219.21h2.8M444.4,219.21h-2.8M55.85,206.84h2.8M444.4,206.84h-2.8M55.85,194.48h4.7M444.4,194.48h-4.7M55.85,182.11h2.8M444.4,182.11h-2.8M55.85,169.75h2.8M444.4,169.75h-2.8M55.85,157.38h2.8M444.4,157.38h-2.8M55.85,145.01h2.8M444.4,145.01h-2.8M55.85,132.65h4.7M444.4,132.65h-4.7M55.85,120.29h2.8M444.4,120.29h-2.8M55.85,107.92h2.8M444.4,107.92h-2.8M55.85,95.56h2.8M444.4,95.56h-2.8M55.85,83.19h2.8M444.4,83.19h-2.8M55.85,70.83h4.7M444.4,70.83h-4.7M55.85,58.46h2.8M444.4,58.46h-2.8M55.85,46.09h2.8M444.4,46.09h-2.8M55.85,33.73h2.8M444.4,33.73h-2.8M55.85,21.37h2.8M444.4,21.37h-2.8"/>
</g>
<text class="b" transform="translate(52.4,262.10) rotate(0.03) scale(1,1.1)" text-anchor="end">0.00</text>
<text class="b" transform="translate(52.4,200.28) rotate(0.03) scale(1,1.1)" text-anchor="end">0.01</text>
<text class="b" transform="translate(52.4,138.45) rotate(0.03) scale(1,1.1)" text-anchor="end">0.02</text>
<text class="b" transform="translate(52.4,76.63) rotate(0.03) scale(1,1.1)" text-anchor="end">0.03</text>
<text class="b" transform="translate(52.4,14.80) rotate(0.03) scale(1,1.1)" text-anchor="end">0.04</text>
<text class="b" transform="translate(90.10,275.0) rotate(0.03) scale(1,1.1)" text-anchor="middle">6</text>
<text class="b" transform="translate(159.48,275.0) rotate(0.03) scale(1,1.1)" text-anchor="middle">8</text>
<text class="b" transform="translate(228.86,275.0) rotate(0.03) scale(1,1.1)" text-anchor="middle">10</text>
<text class="b" transform="translate(298.24,275.0) rotate(0.03) scale(1,1.1)" text-anchor="middle">12</text>
<text class="b" transform="translate(367.62,275.0) rotate(0.03) scale(1,1.1)" text-anchor="middle">14</text>
<text class="b" transform="translate(437.00,275.0) rotate(0.03) scale(1,1.1)" text-anchor="middle">16</text>
<text class="b" transform="translate(249.9,299.9) rotate(0.03) scale(1,1.1)" text-anchor="middle">r</text>
<g transform="translate(15.15,142.15) rotate(-89.97) scale(1,1.04)"><text class="b" style="font-size:15.3px" x="0" y="0">&#937;<tspan style="font-size:11.5px;font-weight:normal;font-style:italic;stroke:none" dy="2.45" dx="0">r</tspan></text></g>
<g fill="none" stroke-width="1.8">
<path d="M345,25.0H389.3" stroke="#000"/>
<path d="M345,51.4H389.3" stroke="#ff0000" stroke-dasharray="6.1 5.4 6 1.5 9.9 1.5"/>
<path d="M345,77.9H389.3" stroke="#000" stroke-dasharray="6.1 5.4 6 1.5 9.9 1.5"/>
<path d="M345,104.3H389.3" stroke="#0000ff" stroke-dasharray="6.1 5.4 6 1.5 9.9 1.5"/>
</g>
<text transform="translate(397.55,30.45) rotate(0.03) scale(1,1.04)" class="lg">a=0.5</text>
<text transform="translate(397.55,56.85) rotate(0.03) scale(1,1.04)" class="lg">a=0.6</text>
<text transform="translate(397.55,83.35) rotate(0.03) scale(1,1.04)" class="lg">a=0.7</text>
<text transform="translate(397.55,109.75) rotate(0.03) scale(1,1.04)" class="lg">a=0.8</text>
</svg>
</body></html>
